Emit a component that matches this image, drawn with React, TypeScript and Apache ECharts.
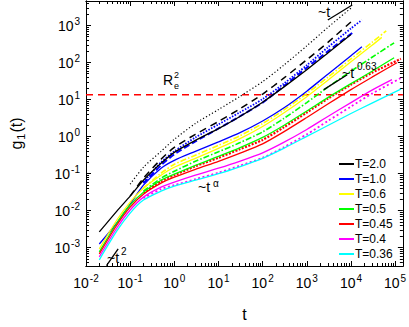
import React, { useEffect, useRef } from 'react';
import * as echarts from 'echarts';

const FONT = '"Liberation Sans", Arial, Helvetica, sans-serif';

// ---- axis ranges & ticks ----
const xMin = 0.01;
const xMax = 1.5e5;
const yMin = 3.2e-4;
const yMax = 4.6e3;
const xTickExps = [-2, -1, 0, 1, 2, 3, 4, 5];
const yTickExps = [-3, -2, -1, 0, 1, 2, 3];

// ---- legend ----
const legendNames = ['T=2.0', 'T=1.0', 'T=0.6', 'T=0.5', 'T=0.45', 'T=0.4', 'T=0.36'];
const lineColors = ['#000000', '#0000ff', '#ffff00', '#00ff00', '#ff0000', '#ff00ff', '#00ffff'];

// ---- data (t, g1) ----
const tBlack = [0.02, 0.05, 0.1, 0.2, 0.5, 1, 3, 10, 30, 100, 300, 1000, 3000, 10000];
const gBlack = [0.00266, 0.00975, 0.0247, 0.0665, 0.19, 0.376, 0.79, 1.64, 3.43, 8.51, 21.7, 64.0, 181, 573];
const tBlackDash = [0.1, 0.2, 0.5, 1, 3, 10, 30, 100, 300, 1000, 3000, 10000];
const gBlackDash = [0.0247, 0.0752, 0.244, 0.513, 1.15, 2.56, 5.56, 14.1, 37.8, 119, 351, 1250];
const tBlackDot = [0.1, 0.2, 0.5, 1, 3, 10, 30, 100, 300, 1000, 3000, 10700];
const gBlackDot = [0.0519, 0.149, 0.4, 0.84, 2.26, 5.38, 12.0, 30.5, 84.6, 283, 889, 3162];

const tBlue = [0.02, 0.05, 0.1, 0.2, 0.5, 1, 3, 10, 30, 100, 300, 1000, 3000, 10000, 17700];
const gBlue = [0.00126, 0.00464, 0.015, 0.0488, 0.14, 0.229, 0.4, 0.721, 1.26, 2.64, 5.91, 16.9, 48.4, 152, 266];
const tBlueDot = [0.2, 0.5, 1, 3, 10, 30, 100, 300, 1000, 3000, 10000, 17700];
const gBlueDot = [0.0587, 0.202, 0.4, 0.951, 2.13, 4.47, 10.3, 26.9, 84.6, 258, 836, 1416];
const tBlueDash = [0.2, 0.5, 1, 3, 10, 30, 100, 300, 1000, 3000, 10700];
const gBlueDash = [0.0552, 0.168, 0.333, 0.743, 1.66, 3.49, 8.3, 23.1, 72.5, 201, 632];

const tYellow = [0.02, 0.05, 0.1, 0.2, 0.5, 1, 3, 10, 30, 100, 300, 1000, 3000, 10000, 30000, 50000];
const gYellow = [9.29e-4, 5.59e-3, 0.017, 0.0405, 0.0906, 0.149, 0.259, 0.482, 0.867, 1.88, 4.34, 12.0, 33.4, 105, 292, 479];
const tYellowDD = [0.2, 0.5, 1, 3, 10, 30, 100, 300, 1000, 3000, 10000, 30000, 63000];
const gYellowDD = [0.0405, 0.1026, 0.179, 0.313, 0.58, 1.045, 2.26, 5.22, 14.5, 40.3, 126, 351, 716];

const tGreen = [0.02, 0.05, 0.1, 0.2, 0.5, 1, 3, 10, 30, 100, 300, 1000, 3000, 10000, 30000, 95000];
const gGreen = [7.71e-4, 4.64e-3, 0.0142, 0.0316, 0.0665, 0.0964, 0.168, 0.294, 0.497, 0.951, 2.0, 4.91, 11.3, 26.9, 58.3, 135];
const tGreenDD = [0.2, 0.5, 1, 3, 10, 30, 100, 300, 1000, 3000, 10000, 30000, 95000];
const gGreenDD = [0.0336, 0.0752, 0.116, 0.215, 0.388, 0.678, 1.34, 3.08, 8.3, 21.7, 58.3, 139, 341];

const tRed = [0.02, 0.05, 0.1, 0.2, 0.5, 1, 3, 10, 30, 100, 300, 1000, 3000, 10000, 30000, 110000];
const gRed = [6.81e-4, 4.1e-3, 0.0125, 0.0279, 0.0552, 0.08, 0.131, 0.215, 0.353, 0.637, 1.34, 3.28, 7.57, 18.6, 40.3, 98.8];
const tRedDot = [0.2, 0.5, 1, 3, 10, 30, 100, 300, 1000, 3000, 10000, 30000, 135000];
const gRedDot = [0.0297, 0.0625, 0.0906, 0.158, 0.267, 0.453, 0.815, 1.77, 4.47, 10.6, 25.3, 53.2, 126];

const tMagenta = [0.02, 0.05, 0.1, 0.2, 0.5, 1, 3, 10, 30, 100, 300, 1000, 3000, 10000, 30000, 85000];
const gMagenta = [5.66e-4, 3.4e-3, 0.0104, 0.0232, 0.0431, 0.0587, 0.0906, 0.14, 0.215, 0.365, 0.698, 1.56, 3.49, 8.3, 18.0, 34.5];
const tMagentaDot = [0.2, 0.5, 1, 3, 10, 30, 100, 300, 1000, 3000, 10000, 30000, 140000];
const gMagentaDot = [0.0218, 0.0381, 0.0488, 0.0707, 0.106, 0.163, 0.267, 0.513, 1.15, 2.64, 6.48, 14.5, 39.0];

const tCyan = [0.02, 0.05, 0.1, 0.2, 0.5, 1, 3, 10, 30, 100, 300, 1000, 3000, 10000, 30000, 135000];
const gCyan = [4.7e-4, 2.83e-3, 8.61e-3, 0.0193, 0.0336, 0.0458, 0.0665, 0.0993, 0.153, 0.259, 0.482, 1.01, 2.0, 4.21, 8.05, 19.1];

// R_e^2 level
const Re2 = 13.5;

// slope guide segments
const guideT1 = [[2990, 1413], [10700, 3580]];
const guideT063 = [[2430, 18.6], [8240, 47.0]];
const guideT2 = [[0.0291, 3.3e-4], [0.0535, 9.3e-4]];

function pairs(t: number[], g: number[]) {
  return t.map((v, i) => [v, g[i]]);
}

function minorValues(minExp: number, maxExp: number, lo: number, hi: number) {
  const out: number[] = [];
  for (let k = minExp; k <= maxExp; k++) {
    for (let m = 2; m <= 9; m++) {
      const v = m * Math.pow(10, k);
      if (v >= lo && v <= hi) out.push(v);
    }
  }
  return out;
}

export default function App() {
  const ref = useRef<HTMLDivElement>(null);

  useEffect(() => {
    if (!ref.current) return;
    const chart = echarts.init(ref.current, null, { renderer: 'svg' });

    const xMajor = xTickExps.map((e) => Math.pow(10, e));
    const yMajor = yTickExps.map((e) => Math.pow(10, e));
    const xMinor = minorValues(-2, 5, xMin, xMax);
    const yMinor = minorValues(-4, 3, yMin, yMax);

    const labelCfg = (margin: number, vals: number[]) => ({
      show: true,
      customValues: vals,
      margin,
      color: '#000',
      fontFamily: FONT,
      formatter: (v: number) => `{b|10}{e|${Math.round(Math.log10(v))}}`,
      rich: {
        b: { fontSize: 14, fontFamily: FONT, color: '#000' },
        e: { fontSize: 10, fontFamily: FONT, color: '#000', padding: [0, 0, 9, 1] },
      },
    });

    const mkAxis = (
      pos: string,
      min: number,
      max: number,
      tickVals: number[],
      len: number,
      withLabels: boolean,
      margin: number,
      extra: any = {}
    ) => ({
      type: 'log',
      logBase: 10,
      position: pos,
      min,
      max,
      axisLine: { show: true, onZero: false, lineStyle: { color: '#000', width: 1 } },
      axisTick: {
        show: true,
        inside: true,
        length: len,
        customValues: tickVals,
        lineStyle: { color: '#000', width: 1 },
      },
      axisLabel: withLabels ? labelCfg(margin, tickVals) : { show: false },
      splitLine: { show: false },
      minorTick: { show: false },
      minorSplitLine: { show: false },
      ...extra,
    });

    const xAxes = [
      mkAxis('bottom', xMin, xMax, xMajor, 5, true, 7, {
        name: 't',
        nameLocation: 'middle',
        nameGap: 40,
        nameTextStyle: { fontSize: 16, fontFamily: FONT, color: '#000' },
      }),
      mkAxis('bottom', xMin, xMax, xMinor, 3, false, 0),
      mkAxis('top', xMin, xMax, xMajor, 5, false, 0),
      mkAxis('top', xMin, xMax, xMinor, 3, false, 0),
    ];
    const yAxes = [
      mkAxis('left', yMin, yMax, yMajor, 5, true, 6, {
        name: '{g|g}{s|1}{g|(t)}',
        nameLocation: 'middle',
        nameGap: 60,
        nameRotate: 90,
        nameTextStyle: {
          rich: {
            g: { fontSize: 16, fontFamily: FONT, color: '#000' },
            s: { fontSize: 11, fontFamily: FONT, color: '#000', padding: [9, 1, 0, 1] },
          },
        },
      }),
      mkAxis('left', yMin, yMax, yMinor, 3, false, 0),
      mkAxis('right', yMin, yMax, yMajor, 5, false, 0),
      mkAxis('right', yMin, yMax, yMinor, 3, false, 0),
    ];

    const line = (
      name: string,
      data: number[][],
      color: string,
      width: number,
      type: any = 'solid',
      z = 2
    ) => ({
      name,
      type: 'line',
      xAxisIndex: 0,
      yAxisIndex: 0,
      data,
      showSymbol: false,
      symbol: 'none',
      smooth: 0.25,
      z,
      lineStyle: { color, width, type },
      itemStyle: { color },
      emphasis: { disabled: true },
    });

    const series: any[] = [
      { ...line('Re2', [[xMin, Re2], [xMax, Re2]], '#ff0000', 1.6, [7, 5], 1), smooth: false },
      line('bk-dot', pairs(tBlackDot, gBlackDot), '#000000', 1.2, [1.2, 2.2]),
      line('bk-dash', pairs(tBlackDash, gBlackDash), '#000000', 1.5, [7, 5]),
      line('bl-dot', pairs(tBlueDot, gBlueDot), '#0000ff', 1.8, [1.5, 1.5]),
      line('bl-dash', pairs(tBlueDash, gBlueDash), '#0000ff', 2, [6, 3]),
      line('ye-dd', pairs(tYellowDD, gYellowDD), '#ffff00', 1.6, [6, 2, 1.5, 2]),
      line('gr-dd', pairs(tGreenDD, gGreenDD), '#00ff00', 1.6, [6, 2, 1.5, 2]),
      line('re-dot', pairs(tRedDot, gRedDot), '#ff0000', 2.2, [2, 1.5]),
      line('ma-dot', pairs(tMagentaDot, gMagentaDot), '#ff00ff', 1.8, [2, 2.5]),
      line(legendNames[0], pairs(tBlack, gBlack), lineColors[0], 1.3),
      line(legendNames[1], pairs(tBlue, gBlue), lineColors[1], 1.3),
      line(legendNames[2], pairs(tYellow, gYellow), lineColors[2], 1.3),
      line(legendNames[3], pairs(tGreen, gGreen), lineColors[3], 1.3),
      line(legendNames[4], pairs(tRed, gRed), lineColors[4], 1.3),
      line(legendNames[5], pairs(tMagenta, gMagenta), lineColors[5], 1.3),
      line(legendNames[6], pairs(tCyan, gCyan), lineColors[6], 1.3),
      { ...line('g1', guideT1, '#000', 1.3), smooth: false },
      { ...line('g063', guideT063, '#000', 1.3), smooth: false },
      { ...line('g2', guideT2, '#000', 1.3), smooth: false },
    ];

    const txt = (x: number, y: number, text: string, size: number) => ({
      type: 'text',
      x,
      y,
      z: 100,
      style: {
        text,
        fontSize: size,
        fontFamily: FONT,
        fill: '#000',
        align: 'left',
        verticalAlign: 'middle',
      },
    });

    chart.setOption({
      animation: false,
      backgroundColor: '#ffffff',
      grid: { left: 79, right: 5, top: 1, bottom: 60, containLabel: false },
      xAxis: xAxes,
      yAxis: yAxes,
      legend: {
        data: legendNames.map((n) => ({ name: n, icon: 'rect' })),
        orient: 'vertical',
        left: 339,
        top: 157,
        itemWidth: 15,
        itemHeight: 2,
        itemGap: 1,
        padding: 0,
        textStyle: {
          fontSize: 12,
          lineHeight: 14,
          fontFamily: FONT,
          color: '#000',
          padding: [0, 0, 0, -4],
        },
      },
      series,
      graphic: [
        txt(318, 12, '~t', 14),
        txt(342, 73, '~t', 14),
        txt(357, 66, '0.63', 10),
        txt(107, 258, '~t', 14),
        txt(121, 251, '2', 10),
        txt(198, 187, '~t', 14),
        txt(213, 183, 'α', 10),
        txt(163, 80, 'R', 14),
        txt(174, 75, '2', 9),
        txt(174, 86, 'e', 9),
      ],
    });

    return () => chart.dispose();
  }, []);

  return (
    <div
      ref={ref}
      style={{ position: 'fixed', left: 0, top: 0, width: 409, height: 327, background: '#fff' }}
    />
  );
}
